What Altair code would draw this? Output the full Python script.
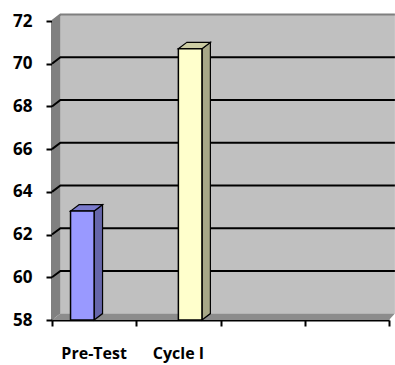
import altair as alt
import pandas as pd

# Chart data
categories = ["Pre-Test", "Cycle I"]
scores = [63.1, 70.7]
series_slot = [0, 1]          # clustered position of each bar inside its category
front_colors = ["#9999FF", "#FFFFCC"]
top_colors = ["#7A7ACC", "#CCCCA3"]
side_colors = ["#6666AA", "#A8A888"]
y_ticks = [58, 60, 62, 64, 66, 68, 70, 72]
n_bands = 4

Y_MIN, Y_MAX = 58, 72
DX, DY = 0.1, 0.3             # depth of the 3-D box in data units
BAR_W = 0.28
WALL_END = n_bands + 0.07     # back wall runs to the right edge of the figure

W, H = 337, 299
xs = alt.Scale(domain=[0, n_bands], nice=False, zero=False)
ys = alt.Scale(domain=[Y_MIN, Y_MAX], nice=False, zero=False)
label_font = "Open Sans"

x_axis = alt.Axis(
    values=list(range(n_bands + 1)), grid=False, labels=False,
    domainColor="black", domainWidth=2, tickColor="black", tickWidth=2,
    tickSize=6, title=None)
y_axis = alt.Axis(
    values=y_ticks, grid=False, domainColor="black", domainWidth=2,
    tickColor="black", tickWidth=2, tickSize=6, labelPadding=14,
    labelFont=label_font, labelFontWeight="bold", labelFontSize=17,
    labelColor="black", title=None)


def X(field="x"):
    return alt.X(f"{field}:Q", scale=xs, axis=x_axis, title=None)


def Y(field="y"):
    return alt.Y(f"{field}:Q", scale=ys, axis=y_axis, title=None)


# Back wall
wall = pd.DataFrame({"x": [DX], "x2": [WALL_END],
                     "y": [Y_MIN + DY], "y2": [Y_MAX + DY]})
back_wall = alt.Chart(wall).mark_rect(fill="#C0C0C0").encode(
    x=X(), x2="x2", y=Y(), y2="y2")
wall_top = alt.Chart(pd.DataFrame({"x": [0, DX, WALL_END],
                                   "y": [Y_MAX, Y_MAX + DY, Y_MAX + DY]})).mark_line(
    color="#7F7F7F", strokeWidth=2).encode(x=X(), y=Y())

# Left side wall
side = pd.DataFrame({"x": [0, DX], "y": [Y_MAX, Y_MAX + DY], "y2": [Y_MIN, Y_MIN + DY]})
side_wall = alt.Chart(side).mark_area(fill="#808080").encode(
    x=X(), y=Y(), y2="y2")

# Floor
floor_df = pd.DataFrame({"y": [Y_MIN, Y_MIN + DY], "x": [0, DX],
                         "x2": [n_bands, WALL_END]})
floor = alt.Chart(floor_df).mark_area(orient="horizontal", fill="#8C8C8C").encode(
    y=Y(), x=X(), x2="x2")

# Gridlines running over the side wall and the back wall
grid_rows = []
for v in y_ticks[1:-1]:
    grid_rows += [{"g": v, "o": 0, "x": 0, "y": v},
                  {"g": v, "o": 1, "x": DX, "y": v + DY},
                  {"g": v, "o": 2, "x": WALL_END, "y": v + DY}]
grid = alt.Chart(pd.DataFrame(grid_rows)).mark_line(
    color="black", strokeWidth=2).encode(
    x=X(), y=Y(), detail="g:N", order="o:Q")

# Bars: front face, side face and top face
front_rows, side_rows, top_rows = [], [], []
for i, (cat, v, s) in enumerate(zip(categories, scores, series_slot)):
    x0 = i + 0.5 + (s - 1) * BAR_W
    x1 = x0 + BAR_W
    front_rows.append({"cat": cat, "x": x0, "x2": x1, "y": Y_MIN, "y2": v,
                       "c": front_colors[i]})
    side_rows += [{"cat": cat, "x": x1, "y": v, "y2": Y_MIN, "c": side_colors[i]},
                  {"cat": cat, "x": x1 + DX, "y": v + DY, "y2": Y_MIN + DY,
                   "c": side_colors[i]}]
    top_rows += [{"cat": cat, "y": v, "x": x0, "x2": x1, "c": top_colors[i]},
                 {"cat": cat, "y": v + DY, "x": x0 + DX, "x2": x1 + DX,
                  "c": top_colors[i]}]

bar_front = alt.Chart(pd.DataFrame(front_rows)).mark_rect(
    stroke="black", strokeWidth=1.5).encode(
    x=X(), x2="x2", y=Y(), y2="y2", fill=alt.Fill("c:N", scale=None))

bar_side = alt.Chart(pd.DataFrame(side_rows)).mark_area(
    stroke="black", strokeWidth=1.2).encode(
    x=X(), y=Y(), y2="y2", fill=alt.Fill("c:N", scale=None), detail="cat:N")

bar_top = alt.Chart(pd.DataFrame(top_rows)).mark_area(
    orient="horizontal", stroke="black", strokeWidth=1.2).encode(
    y=Y(), x=X(), x2="x2", fill=alt.Fill("c:N", scale=None), detail="cat:N")

# Category labels centred under their bands
label_df = pd.DataFrame({"cat": categories,
                         "x": [i + 0.5 for i in range(len(categories))]})
x_labels = alt.Chart(label_df).mark_text(
    font=label_font, fontWeight="bold", fontSize=16, color="black",
    baseline="middle").encode(
    x=X(), y=alt.value(H + 34), text="cat:N")

chart = alt.layer(
    back_wall, side_wall, floor, wall_top, grid,
    bar_side, bar_top, bar_front, x_labels
).properties(
    width=W, height=H,
    autosize=alt.AutoSizeParams(type="none"),
    padding={"left": 52, "top": 21, "right": 6, "bottom": 45},
    background="white"
).configure_view(stroke=None)

chart.save("out.html", embed_options={"renderer": "svg", "actions": False})
